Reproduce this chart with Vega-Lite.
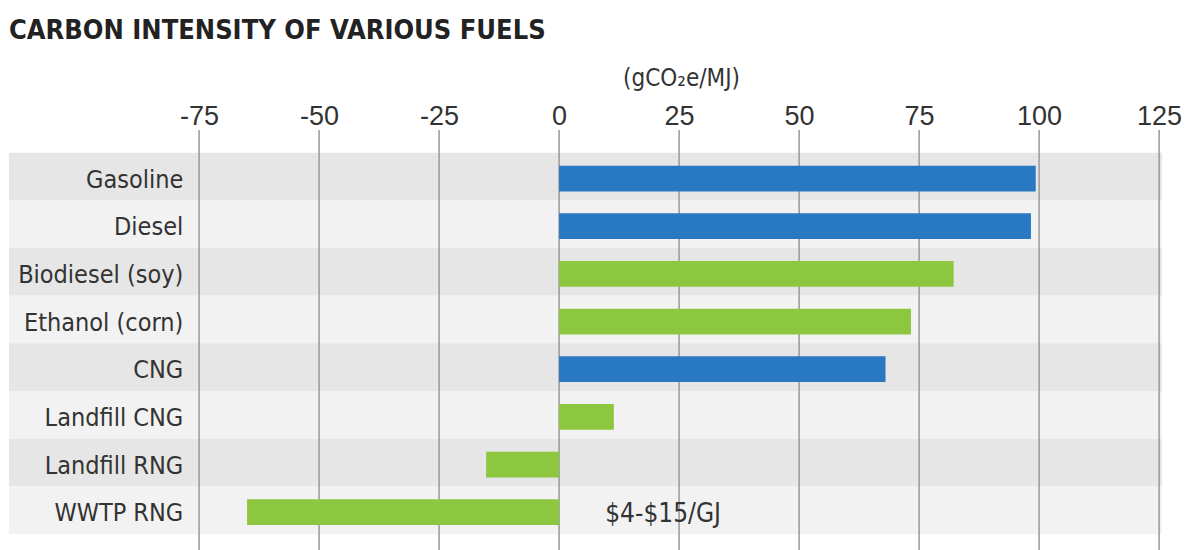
{
  "$schema": "https://vega.github.io/schema/vega-lite/v6.json",
  "width": 1153,
  "height": 420,
  "autosize": {"type": "none"},
  "padding": {"left": 9, "top": 130, "right": 24, "bottom": 0},
  "background": "white",
  "title": {
    "text": "CARBON INTENSITY OF VARIOUS FUELS",
    "anchor": "start",
    "frame": "bounds",
    "font": "DejaVu Sans Condensed, Liberation Sans",
    "fontSize": 27,
    "fontWeight": "bold",
    "color": "#222222",
    "baseline": "alphabetic",
    "offset": 28,
    "dy": 28
  },
  "datasets": {
    "fuels": [
      {"fuel": "Gasoline", "ci": 99.3, "kind": "fossil"},
      {"fuel": "Diesel", "ci": 98.3, "kind": "fossil"},
      {"fuel": "Biodiesel (soy)", "ci": 82.2, "kind": "renewable"},
      {"fuel": "Ethanol (corn)", "ci": 73.3, "kind": "renewable"},
      {"fuel": "CNG", "ci": 68.0, "kind": "fossil"},
      {"fuel": "Landfill CNG", "ci": 11.4, "kind": "renewable"},
      {"fuel": "Landfill RNG", "ci": -15.2, "kind": "renewable"},
      {"fuel": "WWTP RNG", "ci": -65.0, "kind": "renewable", "note": "$4-$15/GJ"}
    ],
    "grid": [
      {"v": -75}, {"v": -50}, {"v": -25}, {"v": 0}, {"v": 25}, {"v": 50}, {"v": 75}, {"v": 100}, {"v": 125}
    ]
  },
  "data": {"name": "fuels"},
  "encoding": {
    "y": {
      "field": "fuel",
      "type": "nominal",
      "sort": null,
      "scale": {"paddingInner": 0, "paddingOuter": 0.406, "align": 0.587},
      "axis": null
    }
  },
  "layer": [
    {
      "mark": {"type": "bar", "height": {"band": 1}},
      "encoding": {
        "color": {
          "field": "fuel",
          "type": "nominal",
          "sort": null,
          "scale": {
            "domain": ["Gasoline", "Diesel", "Biodiesel (soy)", "Ethanol (corn)", "CNG", "Landfill CNG", "Landfill RNG", "WWTP RNG"],
            "range": ["#e6e6e6", "#f2f2f2", "#e6e6e6", "#f2f2f2", "#e6e6e6", "#f2f2f2", "#e6e6e6", "#f2f2f2"]
          },
          "legend": null
        }
      }
    },
    {
      "data": {"name": "grid"},
      "mark": {"type": "rule", "color": "#999999", "strokeWidth": 1.5},
      "encoding": {
        "x": {"field": "v", "type": "quantitative"},
        "y": null
      }
    },
    {
      "mark": {"type": "bar", "height": {"band": 0.54}, "yOffset": 2},
      "encoding": {
        "x": {
          "field": "ci",
          "type": "quantitative",
          "scale": {"domain": [-114.6, 125.6], "nice": false, "zero": false},
          "axis": {
            "orient": "top",
            "values": [-75, -50, -25, 0, 25, 50, 75, 100, 125],
            "labelExpr": "'' + datum.value",
            "ticks": false,
            "domain": false,
            "grid": false,
            "labelFont": "Liberation Sans, Arial, sans-serif",
            "labelFontSize": 27,
            "labelColor": "#333333",
            "labelPadding": 0,
            "labelFlush": false,
            "title": "(gCO₂e/MJ)",
            "titleFont": "DejaVu Sans Condensed, Liberation Sans",
            "titleFontSize": 24,
            "titleFontWeight": "normal",
            "titleColor": "#333333",
            "titleAnchor": "start",
            "titleAlign": "center",
            "titleBaseline": "middle",
            "titleX": 672,
            "titleY": -52
          }
        },
        "x2": {"datum": 0},
        "color": {
          "field": "kind",
          "type": "nominal",
          "scale": {"domain": ["fossil", "renewable"], "range": ["#2878c2", "#8dc63f"]},
          "legend": null
        }
      }
    },
    {
      "mark": {
        "type": "text",
        "align": "right",
        "baseline": "middle",
        "dy": 3,
        "font": "DejaVu Sans Condensed, Liberation Sans",
        "fontSize": 25,
        "color": "#333333"
      },
      "encoding": {
        "x": {"datum": -78.3},
        "text": {"field": "fuel"}
      }
    },
    {
      "transform": [{"filter": "datum.note != null"}],
      "mark": {
        "type": "text",
        "align": "left",
        "baseline": "middle",
        "dy": 4,
        "font": "DejaVu Sans Condensed, Liberation Sans",
        "fontSize": 26,
        "color": "#333333"
      },
      "encoding": {
        "x": {"datum": 9.6},
        "text": {"field": "note"}
      }
    }
  ],
  "resolve": {"scale": {"color": "independent"}},
  "config": {"view": {"stroke": null}}
}
